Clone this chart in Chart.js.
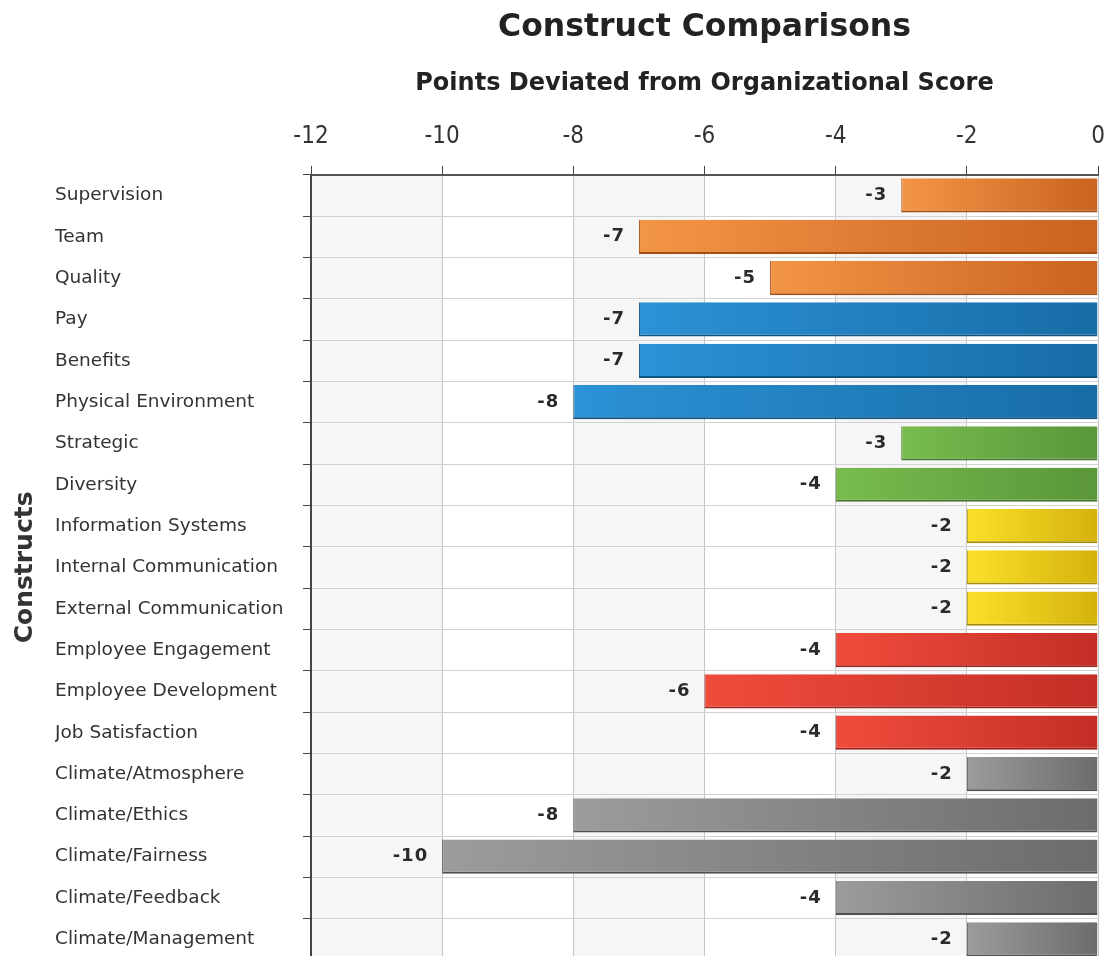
<!DOCTYPE html>
<html>
<head>
<meta charset="utf-8">
<title>Construct Comparisons</title>
<script src="https://cdn.jsdelivr.net/npm/chart.js@4.4.1/dist/chart.umd.min.js"></script>
<style>
  html, body { margin: 0; padding: 0; background: #fff; overflow: hidden; }
  canvas { display: block; }
</style>
</head>
<body>
<canvas id="chart" width="1110" height="960"></canvas>
<script>
// data
const categories = [
  'Supervision', 'Team', 'Quality', 'Pay', 'Benefits', 'Physical Environment',
  'Strategic', 'Diversity', 'Information Systems', 'Internal Communication',
  'External Communication', 'Employee Engagement', 'Employee Development',
  'Job Satisfaction', 'Climate/Atmosphere', 'Climate/Ethics', 'Climate/Fairness',
  'Climate/Feedback', 'Climate/Management'
];
const deviations = [-3, -7, -5, -7, -7, -8, -3, -4, -2, -2, -2, -4, -6, -4, -2, -8, -10, -4, -2];
// which colour group each construct belongs to
const groupOf = [0, 0, 0, 1, 1, 1, 2, 2, 3, 3, 3, 4, 4, 4, 5, 5, 5, 5, 5];
const xMin = -12, xMax = 0, xStep = 2;

// styles: [light, dark, edge]
const palette = [
  ['#F39547', '#C9631F', '#A44E14'],  // orange
  ['#2C92D6', '#176CA6', '#10527F'],  // blue
  ['#78BC4E', '#5A963A', '#46762C'],  // green
  ['#FAE02A', '#D4B20C', '#A88C06'],  // yellow
  ['#F04C3C', '#C42E26', '#9A221C'],  // red
  ['#9C9C9C', '#6C6C6C', '#505050']   // gray
];

const FONT = "'DejaVu Sans', Verdana, sans-serif";

function barFill(ctx) {
  const chart = ctx.chart;
  const i = ctx.dataIndex;
  const p = palette[groupOf[i]];
  if (!chart.chartArea || i === undefined) return p[0];
  const xs = chart.scales.x;
  const left = xs.getPixelForValue(deviations[i]);
  const right = xs.getPixelForValue(0);
  const g = chart.ctx.createLinearGradient(left, 0, right, 0);
  g.addColorStop(0, p[0]);
  g.addColorStop(1, p[1]);
  return g;
}

// alternating column bands, painted before the grid
const bandPlugin = {
  id: 'bands',
  beforeDraw(chart) {
    const {ctx, chartArea, scales} = chart;
    if (!chartArea) return;
    ctx.save();
    ctx.fillStyle = '#f6f6f6';
    for (let v = xMin; v < xMax; v += 2 * xStep) {
      const a = scales.x.getPixelForValue(v);
      const b = scales.x.getPixelForValue(v + xStep);
      ctx.fillRect(a, chartArea.top, b - a, chartArea.bottom - chartArea.top);
    }
    ctx.restore();
  }
};

// value labels left of each bar
const valueLabels = {
  id: 'valueLabels',
  afterDatasetsDraw(chart) {
    const ctx = chart.ctx;
    const meta = chart.getDatasetMeta(0);
    ctx.save();
    ctx.font = "bold 18px " + FONT;
    ctx.fillStyle = '#2a2a2a';
    ctx.textAlign = 'right';
    ctx.textBaseline = 'middle';
    if ('letterSpacing' in ctx) ctx.letterSpacing = '1px';
    meta.data.forEach((bar, i) => {
      ctx.fillText(String(deviations[i]), bar.x - 14, bar.y);
    });
    ctx.restore();
  }
};

new Chart(document.getElementById('chart'), {
  type: 'bar',
  data: {
    labels: categories,
    datasets: [{
      data: deviations,
      backgroundColor: barFill,
      borderColor: ctx => palette[groupOf[ctx.dataIndex]][2],
      borderWidth: {top: 0, right: 0, bottom: 2, left: 1},
      borderSkipped: false,
      categoryPercentage: 0.9,
      barPercentage: 0.92
    }]
  },
  options: {
    indexAxis: 'y',
    responsive: false,
    animation: false,
    layout: { padding: { left: 9, right: 12, top: 0, bottom: 0 } },
    plugins: {
      legend: { display: false },
      tooltip: { enabled: false },
      title: {
        display: true,
        fullSize: false,
        text: 'Construct Comparisons',
        color: '#222',
        font: { family: FONT, size: 31.5, weight: 'bold' },
        padding: { top: 9, bottom: 6 }
      },
      subtitle: {
        display: true,
        position: 'left',
        fullSize: false,
        text: 'Constructs',
        color: '#333',
        font: { family: FONT, size: 25, weight: 'bold' },
        padding: { top: 1, bottom: 15 }
      }
    },
    scales: {
      x: {
        position: 'top',
        min: xMin,
        max: xMax,
        ticks: {
          stepSize: xStep,
          color: '#333',
          padding: 15,
          font: { family: "'DejaVu Sans Condensed', 'Liberation Sans Narrow', 'Liberation Sans', sans-serif", size: 24 }
        },
        grid: { color: '#c6c6c6', tickColor: '#444', tickLength: 9, lineWidth: 1 },
        border: { color: '#555', width: 2 },
        title: {
          display: true,
          text: 'Points Deviated from Organizational Score',
          color: '#222',
          font: { family: FONT, size: 24, weight: 'bold' },
          padding: { top: 17, bottom: 4 }
        },
        afterFit(scale) {
          scale.height = 122;
          scale.paddingLeft = 0;
          scale.paddingRight = 0;
        }
      },
      y: {
        ticks: {
          color: '#333',
          crossAlign: 'far',
          padding: 10,
          font: { family: FONT, size: 18.5 }
        },
        grid: { color: '#d2d2d2', tickColor: '#444', tickLength: 8, offset: true },
        border: { color: '#444', width: 2 },
        afterFit(scale) {
          scale.width = 256;
          scale.paddingTop = 0;
          scale.paddingBottom = 0;
        }
      }
    }
  },
  plugins: [bandPlugin, valueLabels]
});
</script>
</body>
</html>
